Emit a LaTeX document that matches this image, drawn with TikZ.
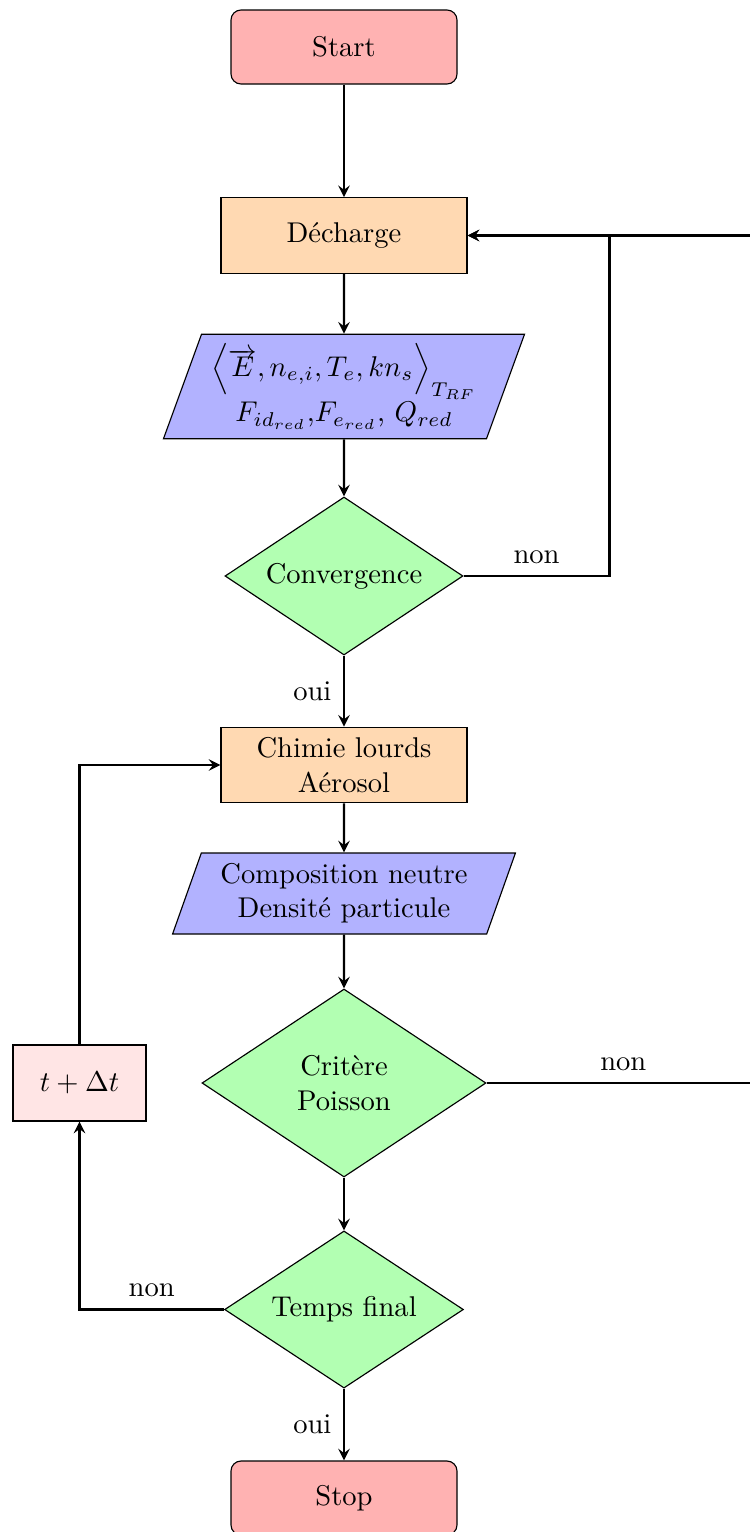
\documentclass[tikz,border=0pt]{standalone}
\usetikzlibrary{shapes.geometric,arrows}
\begin{document}
\begin{tikzpicture}[x=0.35pt,y=-0.35pt,
  startstop/.style={rectangle, rounded corners=3.5pt, draw, fill=red!30, minimum width=79.1pt, minimum height=25.9pt, align=center},
  process/.style={rectangle, draw, fill=orange!30, minimum width=86.1pt, minimum height=26.4pt, align=center},
  io/.style={trapezium, trapezium left angle=70, trapezium right angle=110, trapezium stretches body, draw, fill=blue!30, align=center},
  decision/.style={diamond, draw, fill=green!30, inner sep=0pt, aspect=1.5, align=center},
  stepbox/.style={rectangle, draw, fill=red!10, minimum width=46.55pt, minimum height=26.6pt},
  conn/.style={thick, -stealth},
  lbl/.style={inner sep=0pt}
]
\useasboundingbox (0,0) rectangle (750,1532);

\node[startstop] (start) at (344,47) {Start};
\node[process] (dech) at (344,235.5) {Décharge};
\node[io, minimum width=124.6pt, minimum height=36.05pt] (p1) at (344,386.5)
  {$\left\langle \overrightarrow{E}, n_{e,i}, T_e, kn_s \right\rangle_{T_{RF}}$\\ $F_{id_{red}}$,$F_{e_{red}}$, $Q_{red}$};
\node[decision, minimum width=83.3pt, minimum height=55.3pt] (conv) at (344,576) {Convergence};
\node[process] (chim) at (344,765) {Chimie lourds\\Aérosol};
\node[io, minimum width=120pt, minimum height=28.35pt] (p2) at (344,893.5) {Composition neutre\\Densité particule};
\node[decision, minimum width=99.4pt, minimum height=65.8pt] (crit) at (344,1083) {Critère\\Poisson};
\node[decision, minimum width=83.6pt, minimum height=55pt] (tf) at (344,1309.5) {Temps final};
\node[startstop] (stop) at (344,1498) {Stop};
\node[stepbox] (dt) at (79.5,1083) {$t+\Delta t$};

\coordinate (far) at (760,1083);

\draw[conn] (start) -- (dech);
\draw[conn] (dech) -- (p1);
\draw[conn] (p1) -- (conv);
\draw[conn] (conv) -- node[lbl, left=4pt] {oui} (chim);
\draw[conn] (conv.east) -- node[lbl, above=4pt] {non} ++(146,0) |- (dech.east);
\draw[conn] (chim) -- (p2);
\draw[conn] (p2) -- (crit);
\draw[conn] (crit) -- (tf);
\draw[conn] (tf) -- node[lbl, left=4pt] {oui} (stop);
\draw[conn] (crit.east) -- node[lbl, above=4pt] {non} (far) |- (dech.east);
\draw[conn] (tf.west) -- node[lbl, above=4pt] {non} (dt.south |- tf.west) -- (dt.south);
\draw[conn] (dt.north) |- (chim.west);
\end{tikzpicture}
\end{document}
